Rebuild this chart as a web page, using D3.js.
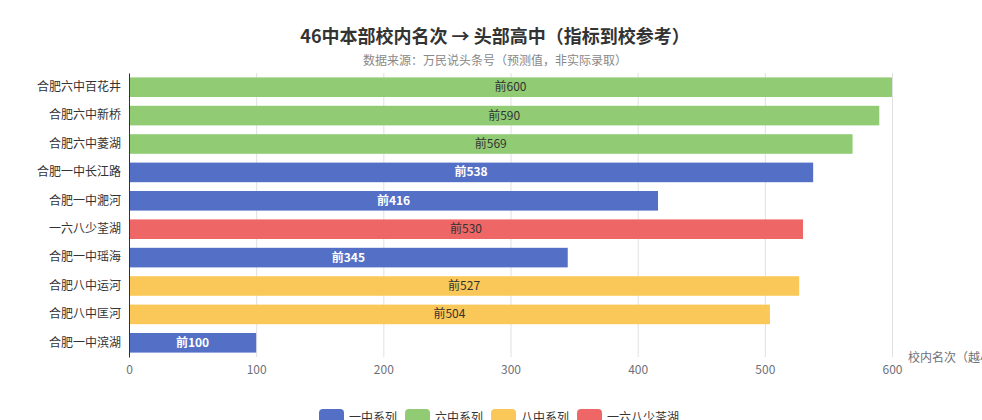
<!DOCTYPE html>
<html>
<head>
<meta charset="utf-8">
<script src="https://cdn.jsdelivr.net/npm/d3@7"></script>
<style>
    html, body { margin: 0; padding: 0; background: #fff; overflow: hidden; }
    svg { display: block; font-family: "Noto Sans CJK SC", "Noto Sans", sans-serif; }
</style>
</head>
<body>
<div id="chart"></div>
<script>
// Chart data (top row first)
const schools = ["合肥六中百花井", "合肥六中新桥", "合肥六中菱湖", "合肥一中长江路", "合肥一中淝河",
                 "一六八少荃湖", "合肥一中瑶海", "合肥八中运河", "合肥八中匡河", "合肥一中滨湖"];
const ranks = [600, 590, 569, 538, 416, 530, 345, 527, 504, 100];
const groups = ["六中系列", "六中系列", "六中系列", "一中系列", "一中系列",
                "一六八少荃湖", "一中系列", "八中系列", "八中系列", "一中系列"];
const seriesNames = ["一中系列", "六中系列", "八中系列", "一六八少荃湖"];
const seriesColors = ["#5470c6", "#91cc75", "#fac858", "#ee6666"];
const xTicks = [0, 100, 200, 300, 400, 500, 600];

const width = 982, height = 420;
const margin = { top: 73, right: 90, bottom: 63, left: 129 };
const innerWidth = width - margin.left - margin.right;
const innerHeight = height - margin.top - margin.bottom;

const svg = d3.select("#chart").append("svg")
    .attr("width", width)
    .attr("height", height);

// Title + subtitle
svg.append("text")
    .attr("x", 495).attr("y", 35)
    .attr("text-anchor", "middle").attr("dominant-baseline", "central")
    .attr("font-size", 18).attr("font-weight", "bold").attr("fill", "#333")
    .text("46中本部校内名次 → 头部高中（指标到校参考）");

svg.append("text")
    .attr("x", 495).attr("y", 59)
    .attr("text-anchor", "middle").attr("dominant-baseline", "central")
    .attr("font-size", 12).attr("fill", "#888")
    .text("数据来源：万民说头条号（预测值，非实际录取）");

const plot = svg.append("g")
    .attr("transform", `translate(${margin.left},${margin.top})`);

// Scales
const x = d3.scaleLinear().domain([0, 600]).range([0, innerWidth]);
const y = d3.scaleBand()
    .domain(schools)
    .range([0, innerHeight])
    .paddingInner(0.31)
    .paddingOuter(0.155);
const color = d3.scaleOrdinal().domain(seriesNames).range(seriesColors);

// x axis: grid lines + labels, no axis line
const xAxis = plot.append("g")
    .attr("transform", `translate(0,${innerHeight})`)
    .call(d3.axisBottom(x).tickValues(xTicks).tickSize(-innerHeight).tickPadding(8));
xAxis.select(".domain").remove();
xAxis.selectAll(".tick line").attr("stroke", "#e0e0e0");
xAxis.selectAll(".tick text")
    .attr("font-size", 12).attr("fill", "#6e7079")
    .attr("font-family", "'Noto Sans CJK SC', sans-serif");

// axis name at the end of x axis (runs off the right edge as in the reference)
plot.append("text")
    .attr("x", innerWidth + 16).attr("y", innerHeight - 1)
    .attr("dominant-baseline", "central")
    .attr("font-size", 12).attr("fill", "#6e7079")
    .text("校内名次（越小越好）");

// Bars
plot.selectAll(".bar")
    .data(schools)
    .enter().append("rect")
    .attr("class", "bar")
    .attr("x", 0)
    .attr("y", d => y(d))
    .attr("width", (d, i) => x(ranks[i]))
    .attr("height", y.bandwidth())
    .attr("fill", (d, i) => color(groups[i]));

// Labels inside bars
plot.selectAll(".bar-label")
    .data(schools)
    .enter().append("text")
    .attr("class", "bar-label")
    .attr("x", (d, i) => x(ranks[i]) / 2)
    .attr("y", d => y(d) + y.bandwidth() / 2 - 1.5)
    .attr("text-anchor", "middle").attr("dominant-baseline", "central")
    .attr("font-size", 12)
    .attr("font-weight", (d, i) => groups[i] === "一中系列" ? "bold" : "normal")
    .attr("fill", (d, i) => groups[i] === "一中系列" ? "#fff" : "#333")
    .text((d, i) => "前" + ranks[i]);

// y axis
const yAxis = plot.append("g")
    .call(d3.axisLeft(y).tickSize(0).tickPadding(8));
yAxis.select(".domain").attr("stroke", "#333");
yAxis.selectAll(".tick text")
    .attr("font-size", 12).attr("fill", "#333")
    .attr("font-family", "'Noto Sans CJK SC', sans-serif");

// Legend along the bottom
const legend = svg.append("g").attr("transform", "translate(319,409)");
let offset = 0;
seriesNames.forEach(function(name, i) {
    const item = legend.append("g").attr("transform", `translate(${offset},0)`);
    item.append("rect")
        .attr("width", 25).attr("height", 14).attr("rx", 4)
        .attr("fill", seriesColors[i]);
    const label = item.append("text")
        .attr("x", 30).attr("y", 7)
        .attr("dominant-baseline", "central")
        .attr("font-size", 12).attr("fill", "#333")
        .text(name);
    offset += 30 + label.node().getComputedTextLength() + 8;
});
</script>
</body>
</html>
